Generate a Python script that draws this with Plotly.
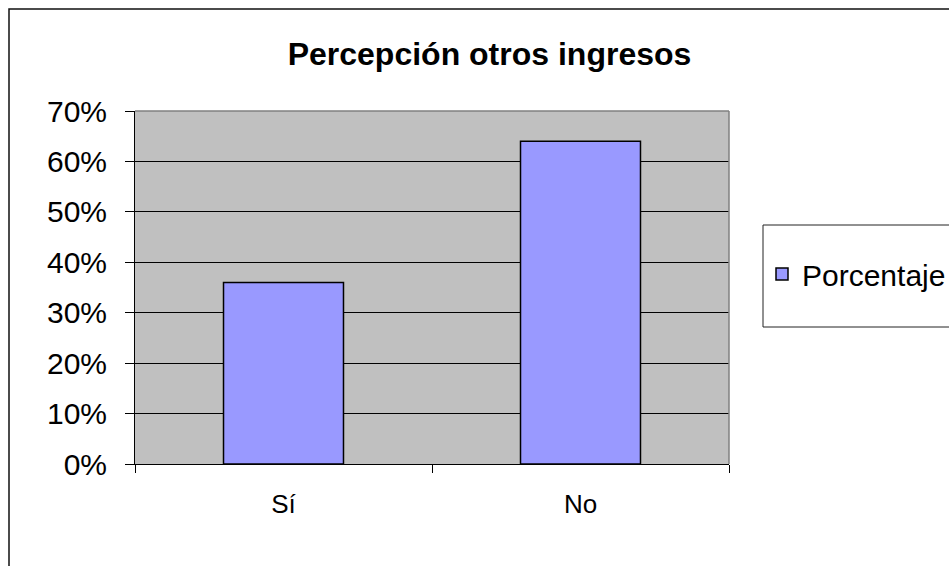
"""Bar chart: Percepción otros ingresos (Excel style)."""

import plotly.graph_objects as go

# data
categories = ["Sí", "No"]
porcentaje = [0.36, 0.64]
series_name = "Porcentaje"
title_text = "Percepción otros ingresos"

FONT = "Liberation Sans, Arial, sans-serif"

# plot area in pixels (949 x 566 canvas)
W, H = 949, 566
PL, PR, PT, PB = 135, 729, 111, 464


def px(x):
    return (x - PL) / (PR - PL)


def py(y):
    return (PB - y) / (PB - PT)


fig = go.Figure()
fig.add_trace(
    go.Bar(
        x=categories,
        y=porcentaje,
        name=series_name,
        marker=dict(color="#9999FF", line=dict(color="black", width=1.5)),
        width=0.404,
        showlegend=True,
    )
)

fig.update_layout(
    width=W,
    height=H,
    autosize=False,
    # keep the plot area fixed; the legend runs off the right edge like the original
    margin=dict(l=PL, r=W - PR, t=PT, b=H - PB, pad=0, autoexpand=False),
    paper_bgcolor="white",
    plot_bgcolor="#C0C0C0",
    font=dict(family=FONT, color="black"),
    title=dict(
        text=f"<b>{title_text}</b>",
        font=dict(family=FONT, size=32, color="black"),
        x=489.5 / W,
        xref="container",
        xanchor="center",
        y=1 - 54 / H,
        yref="container",
        yanchor="middle",
    ),
    showlegend=True,
    legend=dict(
        x=px(762),
        xanchor="left",
        y=py(274),
        yanchor="middle",
        font=dict(family=FONT, size=30, color="black"),
        bgcolor="rgba(0,0,0,0)",
        borderwidth=0,
    ),
    bargap=0.6,
)

fig.update_xaxes(
    type="category",
    showline=True,
    linecolor="black",
    linewidth=1,
    ticks="outside",
    tickson="boundaries",
    ticklen=8,
    tickcolor="black",
    tickwidth=1,
    showgrid=False,
    tickfont=dict(family=FONT, size=26, color="black"),
    ticklabelstandoff=17,
)

fig.update_yaxes(
    range=[0, 0.7],
    dtick=0.1,
    tickformat=".0%",
    showline=True,
    linecolor="black",
    linewidth=1,
    ticks="outside",
    ticklen=9,
    tickcolor="black",
    tickwidth=1,
    showgrid=True,
    gridcolor="black",
    gridwidth=1,
    zeroline=False,
    tickfont=dict(family=FONT, size=30, color="black"),
    ticklabelstandoff=12,
)

# plot-area border (top and right, gray)
fig.add_shape(type="line", xref="paper", yref="paper", x0=0, x1=1, y0=1, y1=1,
              line=dict(color="#808080", width=1.5), layer="above")
fig.add_shape(type="line", xref="paper", yref="paper", x0=1, x1=1, y0=0, y1=1,
              line=dict(color="#808080", width=1.5), layer="above")

# legend box
fig.add_shape(type="rect", xref="paper", yref="paper",
              x0=px(763), x1=px(1000), y0=py(327), y1=py(225),
              line=dict(color="#222222", width=1), layer="above")

# outer chart border
fig.add_shape(type="rect", xref="paper", yref="paper",
              x0=px(9), x1=px(1000), y0=py(600), y1=py(9),
              line=dict(color="#111111", width=1.5), layer="above")

# drop the default body margin so the figure sits at the window origin
fig.write_html(
    "out.html",
    config={"displayModeBar": False},
    post_script="document.body.style.margin='0';document.body.style.overflow='hidden';",
)
